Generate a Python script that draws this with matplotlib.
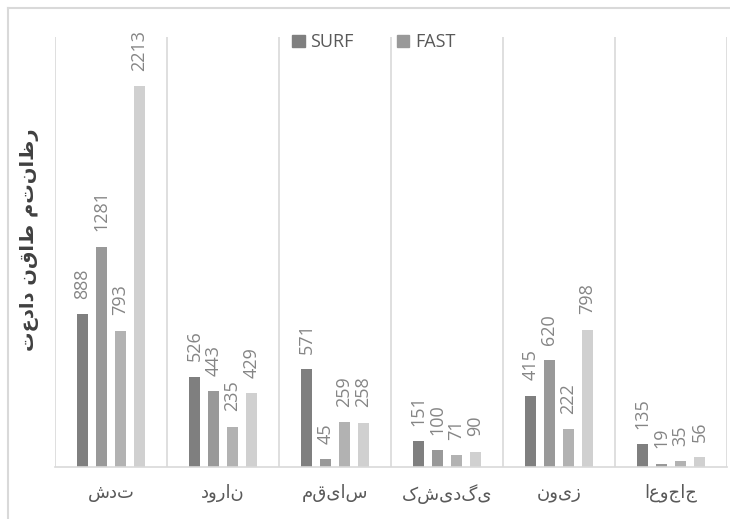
import matplotlib
matplotlib.use("Agg")
import matplotlib.pyplot as plt
import numpy as np
from matplotlib.lines import Line2D
from matplotlib.patches import Patch

# داده‌ها
categories = ["شدت", "دوران", "مقیاس", "کشیدگی", "نویز", "اعوجاج"]
series_names = ["SURF", "FAST"]
surf = [888, 526, 571, 151, 415, 135]
fast = [1281, 443, 45, 100, 620, 19]
series3 = [793, 235, 259, 71, 222, 35]
series4 = [2213, 429, 258, 90, 798, 56]
y_label = "تعداد نقاط متناظر"

colors = ["#7f7f7f", "#999999", "#b2b2b2", "#d0d0d0"]
grid_color = "#d9d9d9"

fig = plt.figure(figsize=(7.3, 5.19), dpi=100)
ax = fig.add_axes([55 / 730, 52 / 519, 672 / 730, 430 / 519])

x = np.arange(len(categories))
step, width = 0.17, 0.094
all_series = [surf, fast, series3, series4]
for i, (vals, c) in enumerate(zip(all_series, colors)):
    pos = x + (i - 1.5) * step
    ax.bar(pos, vals, width=width, color=c, zorder=2)
    for px, v in zip(pos, vals):
        ax.annotate(str(v), (px, v), xytext=(0, 11), textcoords="offset points",
                    rotation=90, ha="center", va="bottom", fontsize=13,
                    family="Open Sans", color="#858585")

ax.set_xlim(-0.5, len(categories) - 0.5)
ax.set_ylim(0, 2500)
for b in np.arange(-0.5, len(categories), 1.0):
    ax.axvline(b, color=grid_color, lw=1.2, zorder=1)

for s in ["top", "left", "right"]:
    ax.spines[s].set_visible(False)
ax.spines["bottom"].set_color(grid_color)
ax.spines["bottom"].set_linewidth(1.2)
ax.set_yticks([])
ax.set_xticks(x)
ax.set_xticklabels(categories, family="DejaVu Sans", fontsize=13, color="#595959")
ax.tick_params(axis="x", length=0, pad=12)

handles = [Patch(color=colors[0]), Patch(color=colors[1])]
ax.legend(handles, series_names, loc="center", bbox_to_anchor=(0.474, 0.988),
          ncol=2, frameon=False, handlelength=0.7, handleheight=0.7,
          handletextpad=0.3, columnspacing=2.4, borderaxespad=0,
          prop={"family": "Open Sans", "size": 13}, labelcolor="#595959")

fig.text(30 / 730, 1 - 240 / 519, y_label, rotation=90, ha="center", va="center",
         fontsize=14, fontweight="bold", family="DejaVu Sans", color="#404040")

# قاب بیرونی
fig.add_artist(Line2D([8 / 730, 1], [1 - 8 / 519] * 2, transform=fig.transFigure,
                      color=grid_color, lw=1.5))
fig.add_artist(Line2D([8 / 730] * 2, [0, 1 - 8 / 519], transform=fig.transFigure,
                      color=grid_color, lw=1.5))

fig.savefig("out.png", dpi=100)
